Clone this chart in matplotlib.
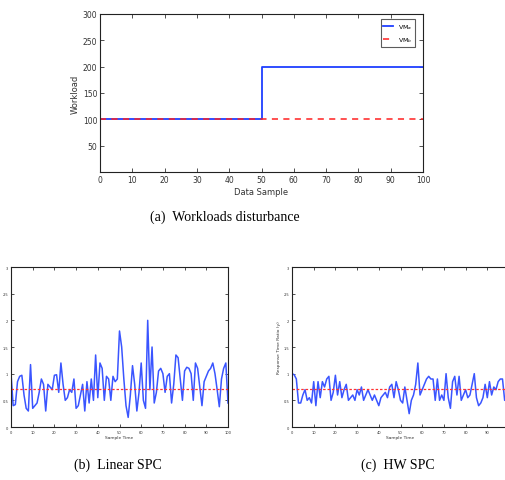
import numpy as np
import matplotlib
matplotlib.use("Agg")
import matplotlib.pyplot as plt

# workload disturbance
samples = np.arange(0, 101)
vm_a = [100] * 50 + [200] * 51
vm_b = [100] * 101

# response time ratio, linear SPC
linear_spc = [
    1.0, 0.4, 0.42, 0.85, 0.95, 0.97, 0.6, 0.35, 0.3, 1.17,
    0.35, 0.4, 0.45, 0.65, 0.9, 0.8, 0.3, 0.8, 0.75, 0.7,
    0.97, 0.98, 0.65, 1.2, 0.8, 0.5, 0.55, 0.7, 0.65, 0.9,
    0.35, 0.4, 0.6, 0.8, 0.3, 0.85, 0.45, 0.9, 0.5, 1.35,
    0.55, 1.2, 1.1, 0.5, 0.95, 0.9, 0.5, 0.95, 0.85, 0.9,
    1.8, 1.5, 0.9, 0.4, 0.18, 0.6, 1.15, 0.8, 0.3, 0.65,
    1.2, 0.5, 0.35, 2.0, 0.7, 1.5, 0.45, 0.65, 1.05, 1.1,
    1.0, 0.65, 0.95, 1.0, 0.45, 0.8, 1.35, 1.3, 0.9, 0.5,
    1.05, 1.12, 1.1, 1.0, 0.5, 1.2, 1.1, 0.75, 0.4, 0.85,
    0.95, 1.05, 1.1, 1.2, 1.0, 0.7, 0.38, 0.9, 1.1, 1.2,
    0.45,
]

# response time ratio, HW SPC
hw_spc = [
    1.0, 0.98, 0.9, 0.45, 0.45, 0.6, 0.7, 0.5, 0.55, 0.45,
    0.85, 0.4, 0.85, 0.55, 0.85, 0.75, 0.9, 0.95, 0.5, 0.65,
    0.97, 0.6, 0.85, 0.55, 0.7, 0.8, 0.5, 0.55, 0.6, 0.5,
    0.7, 0.6, 0.75, 0.5, 0.6, 0.7, 0.6, 0.5, 0.6, 0.5,
    0.4, 0.55, 0.6, 0.65, 0.55, 0.75, 0.8, 0.55, 0.85, 0.7,
    0.5, 0.45, 0.75, 0.5, 0.25, 0.5, 0.6, 0.8, 1.2, 0.6,
    0.7, 0.8, 0.9, 0.95, 0.9, 0.9, 0.5, 0.9, 0.5, 0.6,
    0.5, 1.0, 0.55, 0.35, 0.85, 0.95, 0.6, 0.95, 0.5, 0.6,
    0.7, 0.55, 0.6, 0.8, 1.0, 0.55, 0.4, 0.45, 0.55, 0.8,
    0.55, 0.85, 0.6, 0.75, 0.7, 0.85, 0.9, 0.9, 0.5, 0.55,
    1.0,
]
reference_level = 0.71

W, H = 505, 481
fig = plt.figure(figsize=(W / 100, H / 100), dpi=100)

def px_axes(left, top, right, bottom):
    return fig.add_axes([left / W, 1 - bottom / H, (right - left) / W, (bottom - top) / H])

def matlab_box(ax, size, length):
    ax.tick_params(direction="in", top=True, right=True, labelsize=size,
                   length=length, width=0.6, colors="#333333", pad=2)
    for s in ax.spines.values():
        s.set_linewidth(0.8)
        s.set_color("#222222")

# (a) workloads
ax = px_axes(100, 15, 423, 173)
ax.step(samples, vm_a, where="post", color="#1f3fff", lw=1.3, label="VM$_a$")
ax.plot(samples, vm_b, color="#ff2020", lw=1.1, ls=(0, (4, 3.5)), label="VM$_b$")
ax.set_xlim(0, 100)
ax.set_ylim(0, 300)
ax.set_xticks(range(0, 101, 10))
ax.set_yticks(range(50, 301, 50))
matlab_box(ax, 5.5, 3)
ax.set_xlabel("Data Sample", fontsize=6, color="#333333", labelpad=2)
ax.set_ylabel("Workload", fontsize=6, color="#333333", labelpad=2)
leg = ax.legend(loc="upper right", fontsize=4.5, frameon=True, fancybox=False,
                handlelength=1.6, borderpad=0.4, labelspacing=0.7,
                bbox_to_anchor=(0.985, 0.985))
leg.get_frame().set_edgecolor("#333333")
leg.get_frame().set_linewidth(0.8)
fig.text(225 / W, 1 - 217 / H, "(a)  Workloads disturbance", ha="center", va="center",
         fontsize=10, family="Liberation Serif")

# (b) linear SPC and (c) HW SPC
panels = [
    (11, 228, linear_spc, "(b)  Linear SPC", 118),
    (292, 509, hw_spc, "(c)  HW SPC", 398),
]
for left, right, series, caption, cx in panels:
    ax = px_axes(left, 268, right, 428)
    ax.plot(samples, series, color="#3a55ff", lw=1.1)
    ax.axhline(reference_level, color="#ff3030", lw=0.9, ls=(0, (2, 1.5)))
    ax.set_xlim(0, 100)
    ax.set_ylim(0, 3)
    ax.set_xticks(range(0, 101, 10))
    ax.set_yticks([0, 0.5, 1, 1.5, 2, 2.5, 3])
    ax.set_yticklabels(["0", "0.5", "1", "1.5", "2", "2.5", "3"])
    matlab_box(ax, 2.6, 2)
    ax.set_xlabel("Sample Time", fontsize=3.2, color="#333333", labelpad=1)
    ax.set_ylabel("Response Time Ratio (y)", fontsize=3.2, color="#333333", labelpad=2)
    fig.text(cx / W, 1 - 465 / H, caption, ha="center", va="center",
             fontsize=10, family="Liberation Serif")

fig.savefig("out.png", dpi=100)
